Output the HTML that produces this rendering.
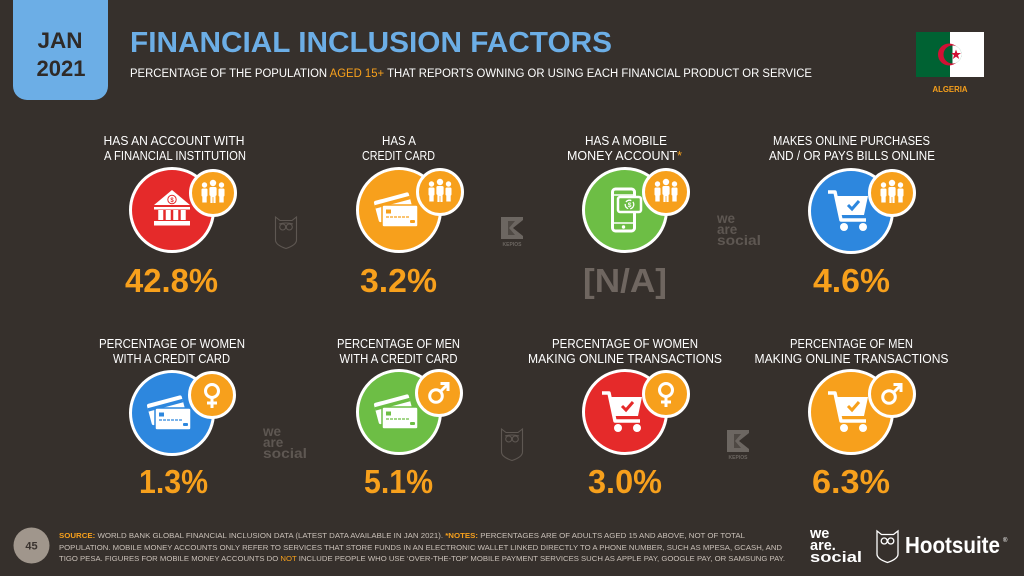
<!DOCTYPE html>
<html><head><meta charset="utf-8"><style>
html,body{margin:0;padding:0;background:#36302c;}
svg{display:block;font-family:"Liberation Sans",sans-serif;}
</style></head><body>
<svg width="1024" height="576" viewBox="0 0 1024 576" xmlns="http://www.w3.org/2000/svg">
<defs>
  <g id="people">
    <circle cx="0" cy="-10" r="3.2" fill="#fff"/>
    <rect x="-3.6" y="-6" width="7.2" height="9" rx="1.5" fill="#fff"/>
    <rect x="-2.6" y="2" width="5.2" height="8" fill="#fff"/>
    <line x1="0" y1="4" x2="0" y2="10" stroke="#f7a01c" stroke-width="0.8"/>
    <circle cx="-8.5" cy="-8" r="2.7" fill="#fff"/>
    <rect x="-11.5" y="-4.5" width="6" height="8" rx="1.3" fill="#fff"/>
    <rect x="-10.7" y="3" width="4.4" height="6.5" fill="#fff"/>
    <circle cx="8.5" cy="-8" r="2.7" fill="#fff"/>
    <rect x="5.5" y="-4.5" width="6" height="8" rx="1.3" fill="#fff"/>
    <rect x="6.3" y="3" width="4.4" height="6.5" fill="#fff"/>
  </g>
  <g id="female" fill="none" stroke="#fff" stroke-width="3">
    <circle cx="0" cy="-4" r="6.5"/>
    <line x1="0" y1="2.5" x2="0" y2="13"/>
    <line x1="-5" y1="8" x2="5" y2="8"/>
  </g>
  <g id="male" fill="none" stroke="#fff" stroke-width="3">
    <circle cx="-3" cy="3" r="6.3"/>
    <line x1="1.5" y1="-1.5" x2="8.5" y2="-8.5"/>
    <polyline points="1.5,-9.5 9,-9.5 9,-2" stroke-linejoin="miter"/>
  </g>
  <g id="owl" fill="none" stroke="#5e5752" stroke-width="1.1">
    <path d="M-10.5,-15 L-6,-11.5 L6,-11.5 L10.5,-15 L10.5,8 Q10.5,13 0,16.5 Q-10.5,13 -10.5,8 Z"/>
    <circle cx="-3.3" cy="-5" r="3"/>
    <circle cx="3.3" cy="-5" r="3"/>
    <path d="M-7,-8 Q0,-10 7,-8"/>
  </g>
  <g id="kepios">
    <polygon points="0,0 22,0 22,3 12,11 22,19 22,22 0,22" fill="#6c6661"/>
    <polygon points="7,4 14,4 8,11 14,18 7,18" fill="#4f4944"/>
    <text x="11" y="29" font-size="5" font-weight="bold" fill="#6c6661" text-anchor="middle">KEPIOS</text>
  </g>
  <g id="was" font-weight="bold" fill="#5e5752" font-size="13.5">
    <text x="0" y="9">we</text>
    <text x="0" y="20">are</text>
    <text x="0" y="31" textLength="44" lengthAdjust="spacingAndGlyphs">social</text>
  </g>
</defs>

<rect width="1024" height="576" fill="#36302c"/>

<!-- Date box -->
<rect x="13" y="-20" width="95" height="120" rx="14" fill="#6caee6"/>
<text x="60" y="48" font-size="22" font-weight="bold" fill="#2f2a27" text-anchor="middle" textLength="45" lengthAdjust="spacingAndGlyphs">JAN</text>
<text x="61" y="76" font-size="22" font-weight="bold" fill="#2f2a27" text-anchor="middle" textLength="49" lengthAdjust="spacingAndGlyphs">2021</text>

<!-- Title -->
<text x="130" y="52" font-size="29" font-weight="bold" fill="#6caee6" textLength="482" lengthAdjust="spacingAndGlyphs">FINANCIAL INCLUSION FACTORS</text>
<text x="130" y="77" font-size="11.5" fill="#ffffff" textLength="682" lengthAdjust="spacingAndGlyphs">PERCENTAGE OF THE POPULATION <tspan fill="#f7a01c">AGED 15+</tspan> THAT REPORTS OWNING OR USING EACH FINANCIAL PRODUCT OR SERVICE</text>

<!-- Flag -->
<rect x="916" y="32" width="34" height="45" fill="#006233"/>
<rect x="950" y="32" width="34" height="45" fill="#ffffff"/>
<circle cx="949" cy="54.5" r="11" fill="#d21034"/>
<circle cx="952.5" cy="54.5" r="9" fill="#006233"/>
<path d="M952.5,45.5 A9,9 0 0 1 952.5,63.5 Z" fill="#ffffff"/>
<polygon points="956,49.5 957.3,53 961,53 958,55.3 959.2,59 956,56.8 952.8,59 954,55.3 951,53 954.7,53" fill="#d21034"/>
<text x="950" y="92" font-size="8" font-weight="bold" fill="#f7a01c" text-anchor="middle" textLength="35" lengthAdjust="spacingAndGlyphs">ALGERIA</text>

<!-- Row 1 labels -->
<g font-size="12.5" fill="#ffffff" text-anchor="middle">
  <text x="174" y="145" textLength="141" lengthAdjust="spacingAndGlyphs">HAS AN ACCOUNT WITH</text>
  <text x="175" y="160" textLength="142" lengthAdjust="spacingAndGlyphs">A FINANCIAL INSTITUTION</text>
  <text x="399" y="145" textLength="34" lengthAdjust="spacingAndGlyphs">HAS A</text>
  <text x="398.5" y="160" textLength="73" lengthAdjust="spacingAndGlyphs">CREDIT CARD</text>
  <text x="626" y="145" textLength="82" lengthAdjust="spacingAndGlyphs">HAS A MOBILE</text>
  <text x="624.5" y="160" textLength="115" lengthAdjust="spacingAndGlyphs">MONEY ACCOUNT<tspan fill="#f7a01c">*</tspan></text>
  <text x="851.5" y="145" textLength="157" lengthAdjust="spacingAndGlyphs">MAKES ONLINE PURCHASES</text>
  <text x="852" y="160" textLength="166" lengthAdjust="spacingAndGlyphs">AND / OR PAYS BILLS ONLINE</text>
</g>
<!-- Row 2 labels -->
<g font-size="12.5" fill="#ffffff" text-anchor="middle">
  <text x="172" y="348" textLength="146" lengthAdjust="spacingAndGlyphs">PERCENTAGE OF WOMEN</text>
  <text x="171.5" y="363" textLength="117" lengthAdjust="spacingAndGlyphs">WITH A CREDIT CARD</text>
  <text x="398.5" y="348" textLength="123" lengthAdjust="spacingAndGlyphs">PERCENTAGE OF MEN</text>
  <text x="398.5" y="363" textLength="118" lengthAdjust="spacingAndGlyphs">WITH A CREDIT CARD</text>
  <text x="625" y="348" textLength="146" lengthAdjust="spacingAndGlyphs">PERCENTAGE OF WOMEN</text>
  <text x="625" y="363" textLength="194" lengthAdjust="spacingAndGlyphs">MAKING ONLINE TRANSACTIONS</text>
  <text x="851.5" y="348" textLength="123" lengthAdjust="spacingAndGlyphs">PERCENTAGE OF MEN</text>
  <text x="851.5" y="363" textLength="194" lengthAdjust="spacingAndGlyphs">MAKING ONLINE TRANSACTIONS</text>
</g>

<!-- ===== Row 1 icons ===== -->
<!-- 1: bank, red -->
<g transform="translate(172,210)">
  <circle r="41.5" fill="#e52a2a" stroke="#fff" stroke-width="3"/>
  <polygon points="-18,-5 0,-20 18,-5" fill="#fff"/>
  <circle cx="0" cy="-10.5" r="4.2" fill="none" stroke="#e52a2a" stroke-width="1"/>
  <text x="0" y="-8" font-size="6" font-weight="bold" fill="#e52a2a" text-anchor="middle">$</text>
  <rect x="-18" y="-3" width="36" height="2.5" fill="#fff"/>
  <rect x="-13.75" y="0" width="5" height="10" fill="#fff"/>
  <rect x="-6.25" y="0" width="5" height="10" fill="#fff"/>
  <rect x="1.25" y="0" width="5" height="10" fill="#fff"/>
  <rect x="8.75" y="0" width="5" height="10" fill="#fff"/>
  <rect x="-18" y="11" width="36" height="4.5" fill="#fff"/>
</g>
<g transform="translate(213,193)">
  <circle r="22.5" fill="#f7a01c" stroke="#fff" stroke-width="3"/>
  <use href="#people"/>
</g>

<!-- 2: cards, orange -->
<g transform="translate(399,210)">
  <circle r="41.5" fill="#f7a01c" stroke="#fff" stroke-width="3"/>
  <g transform="rotate(-15,-4,-2)">
    <rect x="-23" y="-14" width="36" height="22" rx="2" fill="#fff"/>
    <rect x="-23" y="-10" width="36" height="3.5" fill="#f7a01c"/>
  </g>
  <rect x="-17" y="-5" width="36" height="22" rx="2" fill="#fff" stroke="#f7a01c" stroke-width="1.5"/>
  <rect x="-13" y="-0.5" width="5" height="4" fill="#f7a01c"/>
  <line x1="-13" y1="7" x2="10" y2="7" stroke="#f7a01c" stroke-width="1.2" stroke-dasharray="3,1"/>
  <rect x="11" y="10" width="5" height="3" rx="1" fill="#f7a01c"/>
</g>
<g transform="translate(440,192)">
  <circle r="22.5" fill="#f7a01c" stroke="#fff" stroke-width="3"/>
  <use href="#people"/>
</g>

<!-- 3: phone, green -->
<g transform="translate(625,210)">
  <circle r="41.5" fill="#6dbe45" stroke="#fff" stroke-width="3"/>
  <rect x="-12.5" y="-21" width="22" height="42" rx="3" fill="none" stroke="#fff" stroke-width="3"/>
  <line x1="-12" y1="-15" x2="9" y2="-15" stroke="#fff" stroke-width="1.5"/>
  <line x1="-12" y1="13" x2="9" y2="13" stroke="#fff" stroke-width="1.5"/>
  <circle cx="-1.5" cy="17" r="1.7" fill="#fff"/>
  <rect x="-7" y="-13" width="23" height="15" rx="2" fill="#6dbe45" stroke="#fff" stroke-width="2.5"/>
  <circle cx="4.5" cy="-5.5" r="4.3" fill="none" stroke="#fff" stroke-width="1.3" stroke-dasharray="6,2"/>
  <text x="4.5" y="-3" font-size="6.5" font-weight="bold" fill="#fff" text-anchor="middle">$</text>
</g>
<g transform="translate(666,192)">
  <circle r="22.5" fill="#f7a01c" stroke="#fff" stroke-width="3"/>
  <use href="#people"/>
</g>

<!-- 4: cart, blue -->
<g transform="translate(851,211)">
  <circle r="41.5" fill="#2d87de" stroke="#fff" stroke-width="3"/>
  <path d="M-23,-19 L-16,-19 L-10,9 L15,9" fill="none" stroke="#fff" stroke-width="3.5" stroke-linejoin="round"/>
  <polygon points="-16,-15 17,-15 13,4 -11,4" fill="#fff"/>
  <path d="M-3,-6 L1,-2 L8,-10" fill="none" stroke="#2d87de" stroke-width="3"/>
  <circle cx="-7" cy="16" r="4" fill="#fff"/>
  <circle cx="12" cy="16" r="4" fill="#fff"/>
</g>
<g transform="translate(892,193)">
  <circle r="22.5" fill="#f7a01c" stroke="#fff" stroke-width="3"/>
  <use href="#people"/>
</g>

<!-- ===== Row 2 icons ===== -->
<!-- 1: cards blue female -->
<g transform="translate(172,413)">
  <circle r="41.5" fill="#2d87de" stroke="#fff" stroke-width="3"/>
  <g transform="rotate(-15,-4,-2)">
    <rect x="-23" y="-14" width="36" height="22" rx="2" fill="#fff"/>
    <rect x="-23" y="-10" width="36" height="3.5" fill="#2d87de"/>
  </g>
  <rect x="-17" y="-5" width="36" height="22" rx="2" fill="#fff" stroke="#2d87de" stroke-width="1.5"/>
  <rect x="-13" y="-0.5" width="5" height="4" fill="#2d87de"/>
  <line x1="-13" y1="7" x2="10" y2="7" stroke="#2d87de" stroke-width="1.2" stroke-dasharray="3,1"/>
  <rect x="11" y="10" width="5" height="3" rx="1" fill="#2d87de"/>
</g>
<g transform="translate(212,395)">
  <circle r="22.5" fill="#f7a01c" stroke="#fff" stroke-width="3"/>
  <use href="#female"/>
</g>

<!-- 2: cards green male -->
<g transform="translate(399,412)">
  <circle r="41.5" fill="#6dbe45" stroke="#fff" stroke-width="3"/>
  <g transform="rotate(-15,-4,-2)">
    <rect x="-23" y="-14" width="36" height="22" rx="2" fill="#fff"/>
    <rect x="-23" y="-10" width="36" height="3.5" fill="#6dbe45"/>
  </g>
  <rect x="-17" y="-5" width="36" height="22" rx="2" fill="#fff" stroke="#6dbe45" stroke-width="1.5"/>
  <rect x="-13" y="-0.5" width="5" height="4" fill="#6dbe45"/>
  <line x1="-13" y1="7" x2="10" y2="7" stroke="#6dbe45" stroke-width="1.2" stroke-dasharray="3,1"/>
  <rect x="11" y="10" width="5" height="3" rx="1" fill="#6dbe45"/>
</g>
<g transform="translate(439,393)">
  <circle r="22.5" fill="#f7a01c" stroke="#fff" stroke-width="3"/>
  <use href="#male"/>
</g>

<!-- 3: cart red female -->
<g transform="translate(625,412)">
  <circle r="41.5" fill="#e52a2a" stroke="#fff" stroke-width="3"/>
  <path d="M-23,-19 L-16,-19 L-10,9 L15,9" fill="none" stroke="#fff" stroke-width="3.5" stroke-linejoin="round"/>
  <polygon points="-16,-15 17,-15 13,4 -11,4" fill="#fff"/>
  <path d="M-3,-6 L1,-2 L8,-10" fill="none" stroke="#e52a2a" stroke-width="3"/>
  <circle cx="-7" cy="16" r="4" fill="#fff"/>
  <circle cx="12" cy="16" r="4" fill="#fff"/>
</g>
<g transform="translate(666,394)">
  <circle r="22.5" fill="#f7a01c" stroke="#fff" stroke-width="3"/>
  <use href="#female"/>
</g>

<!-- 4: cart orange male -->
<g transform="translate(851,412)">
  <circle r="41.5" fill="#f7a01c" stroke="#fff" stroke-width="3"/>
  <path d="M-23,-19 L-16,-19 L-10,9 L15,9" fill="none" stroke="#fff" stroke-width="3.5" stroke-linejoin="round"/>
  <polygon points="-16,-15 17,-15 13,4 -11,4" fill="#fff"/>
  <path d="M-3,-6 L1,-2 L8,-10" fill="none" stroke="#f7a01c" stroke-width="3"/>
  <circle cx="-7" cy="16" r="4" fill="#fff"/>
  <circle cx="12" cy="16" r="4" fill="#fff"/>
</g>
<g transform="translate(892,394)">
  <circle r="22.5" fill="#f7a01c" stroke="#fff" stroke-width="3"/>
  <use href="#male"/>
</g>

<!-- Values -->
<g font-size="33" font-weight="bold" fill="#f7a01c" text-anchor="middle">
  <text x="171.5" y="292" textLength="93" lengthAdjust="spacingAndGlyphs">42.8%</text>
  <text x="398.5" y="292" textLength="77" lengthAdjust="spacingAndGlyphs">3.2%</text>
  <text x="625" y="292" textLength="84" lengthAdjust="spacingAndGlyphs" fill="#6f6660">[N/A]</text>
  <text x="851.5" y="292" textLength="77" lengthAdjust="spacingAndGlyphs">4.6%</text>
  <text x="173.5" y="493" textLength="69" lengthAdjust="spacingAndGlyphs">1.3%</text>
  <text x="398.5" y="493" textLength="69" lengthAdjust="spacingAndGlyphs">5.1%</text>
  <text x="625" y="493" textLength="74" lengthAdjust="spacingAndGlyphs">3.0%</text>
  <text x="851" y="493" textLength="78" lengthAdjust="spacingAndGlyphs">6.3%</text>
</g>

<!-- Watermarks -->
<use href="#owl" transform="translate(286,232)"/>
<use href="#kepios" transform="translate(501,217)"/>
<use href="#was" transform="translate(717,214)"/>
<use href="#was" transform="translate(263,427)"/>
<use href="#owl" transform="translate(512,444)"/>
<use href="#kepios" transform="translate(727,430)"/>

<!-- Footer -->
<circle cx="31.5" cy="545.5" r="18" fill="#a0968c"/>
<text x="31.5" y="549.5" font-size="11" font-weight="bold" fill="#3a332f" text-anchor="middle">45</text>
<g font-size="7.3" fill="#c9c0b8">
  <text x="59" y="538" textLength="686" lengthAdjust="spacingAndGlyphs"><tspan fill="#f7a01c" font-weight="bold">SOURCE:</tspan> WORLD BANK GLOBAL FINANCIAL INCLUSION DATA (LATEST DATA AVAILABLE IN JAN 2021). <tspan fill="#f7a01c" font-weight="bold">*NOTES:</tspan> PERCENTAGES ARE OF ADULTS AGED 15 AND ABOVE, NOT OF TOTAL</text>
  <text x="59" y="550" textLength="723" lengthAdjust="spacingAndGlyphs">POPULATION. MOBILE MONEY ACCOUNTS ONLY REFER TO SERVICES THAT STORE FUNDS IN AN ELECTRONIC WALLET LINKED DIRECTLY TO A PHONE NUMBER, SUCH AS MPESA, GCASH, AND</text>
  <text x="59" y="561" textLength="726" lengthAdjust="spacingAndGlyphs">TIGO PESA. FIGURES FOR MOBILE MONEY ACCOUNTS DO <tspan fill="#f7a01c">NOT</tspan> INCLUDE PEOPLE WHO USE ‘OVER-THE-TOP’ MOBILE PAYMENT SERVICES SUCH AS APPLE PAY, GOOGLE PAY, OR SAMSUNG PAY.</text>
</g>

<!-- we are social logo -->
<g font-weight="bold" fill="#ffffff" font-size="14.5">
  <text x="810" y="538">we</text>
  <text x="810" y="550">are.</text>
  <text x="810" y="562" textLength="52" lengthAdjust="spacingAndGlyphs">social</text>
</g>
<!-- Hootsuite -->
<g transform="translate(887.5,546)" fill="none" stroke="#ffffff" stroke-width="1.3">
  <path d="M-10.5,-15 L-6,-11.5 L6,-11.5 L10.5,-15 L10.5,8 Q10.5,13 0,16.5 Q-10.5,13 -10.5,8 Z"/>
  <circle cx="-3.3" cy="-5" r="3"/>
  <circle cx="3.3" cy="-5" r="3"/>
</g>
<text x="905" y="553" font-size="23" font-weight="bold" fill="#ffffff" textLength="95" lengthAdjust="spacingAndGlyphs">Hootsuite</text>
<text x="1003" y="542" font-size="6" fill="#ffffff">®</text>
</svg>
</body></html>
